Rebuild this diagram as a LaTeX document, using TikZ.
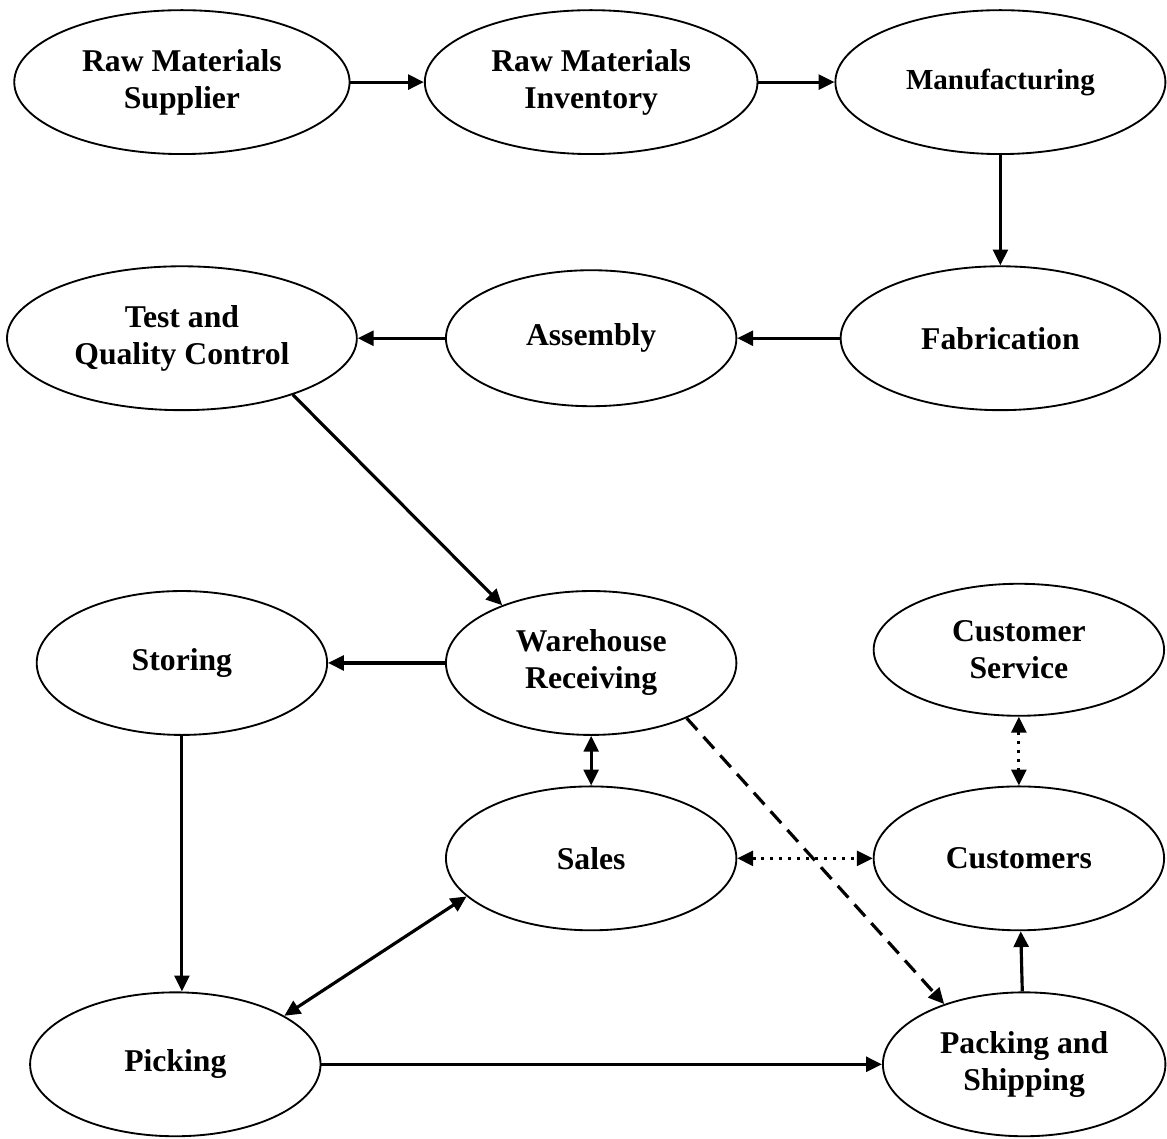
\documentclass[tikz,border=0pt]{standalone}
\usepackage{fontspec}
\setmainfont{Liberation Serif}
\usetikzlibrary{shapes.geometric, arrows.meta, positioning}

\begin{document}
\begin{tikzpicture}[node distance={155pt}, >={Triangle[length=6pt, width=5.6pt]}, main/.style = {draw, ellipse, line width=0.7pt, inner sep=0pt, minimum width=110pt, minimum height=54.5pt, align=center, font=\fontsize{12}{14}\selectfont\bfseries}, link/.style = {line width=1.2pt}]
\useasboundingbox (-68.9pt,31.1pt) rectangle (373.1pt,-400pt);
\node[main, minimum width=127pt] (0) {Raw Materials\\Supplier};
\node[main, minimum width=126pt] (1) [right of=0] {Raw Materials\\Inventory};
\node[main, minimum width=125pt, font=\fontsize{11}{13}\selectfont\bfseries] (2) [right of=1] {Manufacturing};
\node[main, minimum width=121pt] (3) [node distance=97pt, below of=2] {Fabrication};
\node[main, minimum height=51.5pt] (4) [left of=3] {Assembly};
\node[main, minimum width=132.5pt] (5) [left of=4] {Test and\\Quality Control};
\node[main] (6) [node distance=123pt, below of=4] {Warehouse\\Receiving};
\node[main] (7) [left of=6] {Storing};
\node[main, minimum height=50pt] (8) [right of=6, xshift=7pt, yshift=5pt] {Customer\\Service};
\node[main] (9) [node distance=74pt, below of=6] {Sales};
\node[main] (10) [right of=9, xshift=7pt] {Customers};
\node[main] (11) [node distance=152pt, below of=7, xshift=-2.5pt] {Picking};
\node[main, minimum width=107pt] (12) [node distance=78pt, below of=10, xshift=2pt] {Packing and\\Shipping};
\draw[->, link] (0) -- (1);
\draw[->, link] (1) -- (2);
\draw[->, link] (2) -- (3);
\draw[->, link] (3) -- (4);
\draw[->, link] (4) -- (5);
\draw[->, link] (5.-27) -- (6.147);
\draw[->, link] (6) -- (7);
\draw[->, link] (7) -- (7 |- 11.north);
\draw[<->, link] (6) -- (9);
\draw[->, link, dash pattern=on 6pt off 3.5pt] (6.-30) -- (12.143);
\draw[<->, link, dash pattern=on 1.2pt off 2.2pt] (8) -- (10);
\draw[<->, link, dash pattern=on 1.2pt off 2.2pt] (9) -- (10);
\draw[<->, link] (11.24) -- (9.197);
\draw[->, link] (11) -- (12);
\draw[->, link] (12) -- (10);
\end{tikzpicture}
\end{document}
